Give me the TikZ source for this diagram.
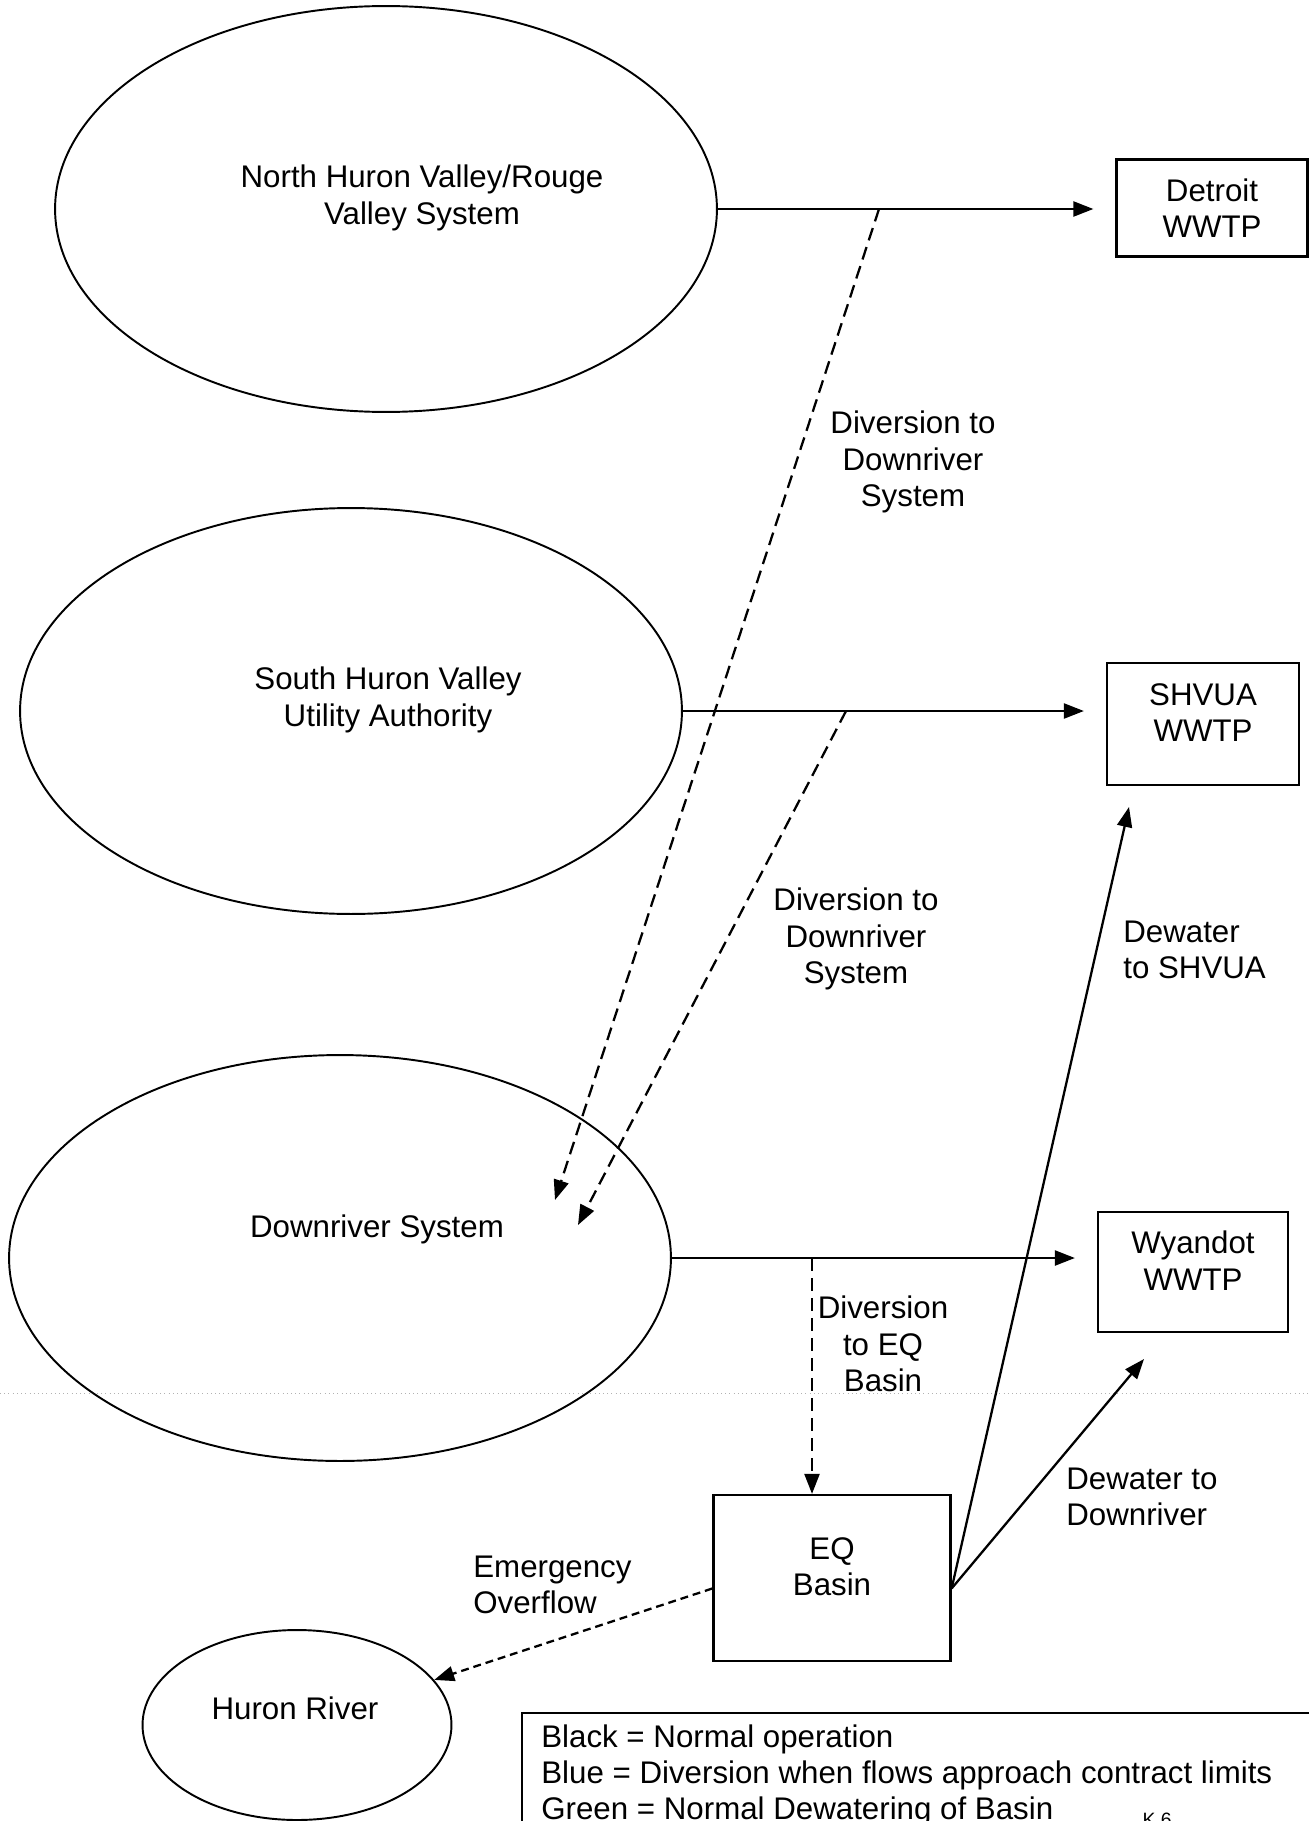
\documentclass[tikz,border=0pt]{standalone}
\usepackage{fontspec}
\setmainfont{Liberation Sans}
\usetikzlibrary {shapes.geometric}
\usetikzlibrary {arrows.meta}
\tikzset{
  every node/.style={font=\fontsize{17.8}{20.7}\selectfont},
  system/.style={draw,ellipse,line width=1.1pt,minimum width=13.24cm,minimum height=8.12cm},
  plant/.style={draw,rectangle,line width=1.3pt,align=center},
  lbl/.style={align=center,inner sep=0pt},
  lblleft/.style={align=left,inner sep=0pt,anchor=west},
  flow/.style={line width=1.3pt,-{Triangle[length=0.4cm,width=0.3cm]}},
  divert/.style={flow,dash pattern=on 7.4pt off 4pt},
  overflow/.style={flow,dash pattern=on 4.5pt off 2.8pt}
}
\newcommand{\mySystem}[3]{
    \node[system] (#3) at (#1,#2) {};
}

\begin{document}
\begin{tikzpicture}[x=0.02cm,y=-0.02cm]
      \useasboundingbox (0,0) rectangle (1308,1821);
      \draw[gray!60,dotted,line width=0.4pt] (0,1393) -- (1308,1393);

      \mySystem{386}{209}{north}
      \mySystem{351}{711}{south}
      \mySystem{340}{1258}{downriver}
      \node[draw,ellipse,line width=1.1pt,minimum width=6.18cm,minimum height=3.8cm] (huron) at (297,1725) {};

      \node[lbl] (northlbl) at (422,198) {North Huron Valley/Rouge\\Valley System};
      \node[lbl] (southlbl) at (388,700) {South Huron Valley\\Utility Authority};
      \node[lbl] (downlbl) at (377,1229) {Downriver System};
      \node[lbl] (huronlbl) at (295,1708) {Huron River};

      \node[plant,minimum width=3.82cm,minimum height=1.94cm] (detroit) at (1212,208) {Detroit\\WWTP};
      \node[plant,minimum width=3.84cm,minimum height=2.44cm,text depth=0.46cm] (shvua) at (1203,724) {SHVUA\\WWTP};
      \node[plant,minimum width=3.8cm,minimum height=2.4cm,text depth=0.46cm] (wyandot) at (1193,1272) {Wyandot\\WWTP};
      \node[plant,minimum width=4.74cm,minimum height=3.32cm,text depth=0.46cm] (eq) at (832,1578) {EQ\\Basin};

      \node[lbl] (divlblA) at (913,462) {Diversion to\\Downriver\\System};
      \node[lbl] (divlblB) at (856,939) {Diversion to\\Downriver\\System};
      \node[lbl] (divlblC) at (883,1344) {Diversion\\to EQ\\Basin};
      \node[lblleft] (dewlblA) at (1123,950) {Dewater\\to SHVUA};
      \node[lblleft] (dewlblB) at (1066,1497) {Dewater to\\Downriver};
      \node[lblleft] (emlbl) at (473,1585) {Emergency\\Overflow};

      \coordinate (divA) at (879,209);
      \coordinate (tipA) at (555,1200);
      \coordinate (divB) at (846,711);
      \coordinate (tipB) at (578,1225);
      \coordinate (divC) at (812,1258);
      \coordinate (tipS) at (1129,807);
      \coordinate (tipW) at (1144,1359);

      \draw[flow,shorten >=0.44cm] (north.east) -- (north.east -| detroit.west);
      \draw[flow,shorten >=0.44cm] (south.east) -- (south.east -| shvua.west);
      \draw[flow,shorten >=0.44cm] (downriver.east) -- (downriver.east -| wyandot.west);
      \draw[divert] (divA) -- (tipA);
      \draw[divert] (divB) -- (tipB);
      \draw[divert] (divC) -- (divC |- eq.north);
      \draw[flow] (eq.-5) -- (tipS);
      \draw[flow] (eq.-5) -- (tipW);
      \draw[overflow] (eq.185) -- (huron);

      \draw[line width=1.3pt] (522,1830) -- (522,1713) -- (1320,1713);
      \node[lblleft,anchor=north west] (key) at (541,1724) {Black = Normal operation\\Blue = Diversion when flows approach contract limits\\Green = Normal Dewatering of Basin};
      \node[inner sep=0pt,anchor=north,font=\fontsize{11}{13}\selectfont] (page) at (1157,1813) {K 6};
\end{tikzpicture}
\end{document}
